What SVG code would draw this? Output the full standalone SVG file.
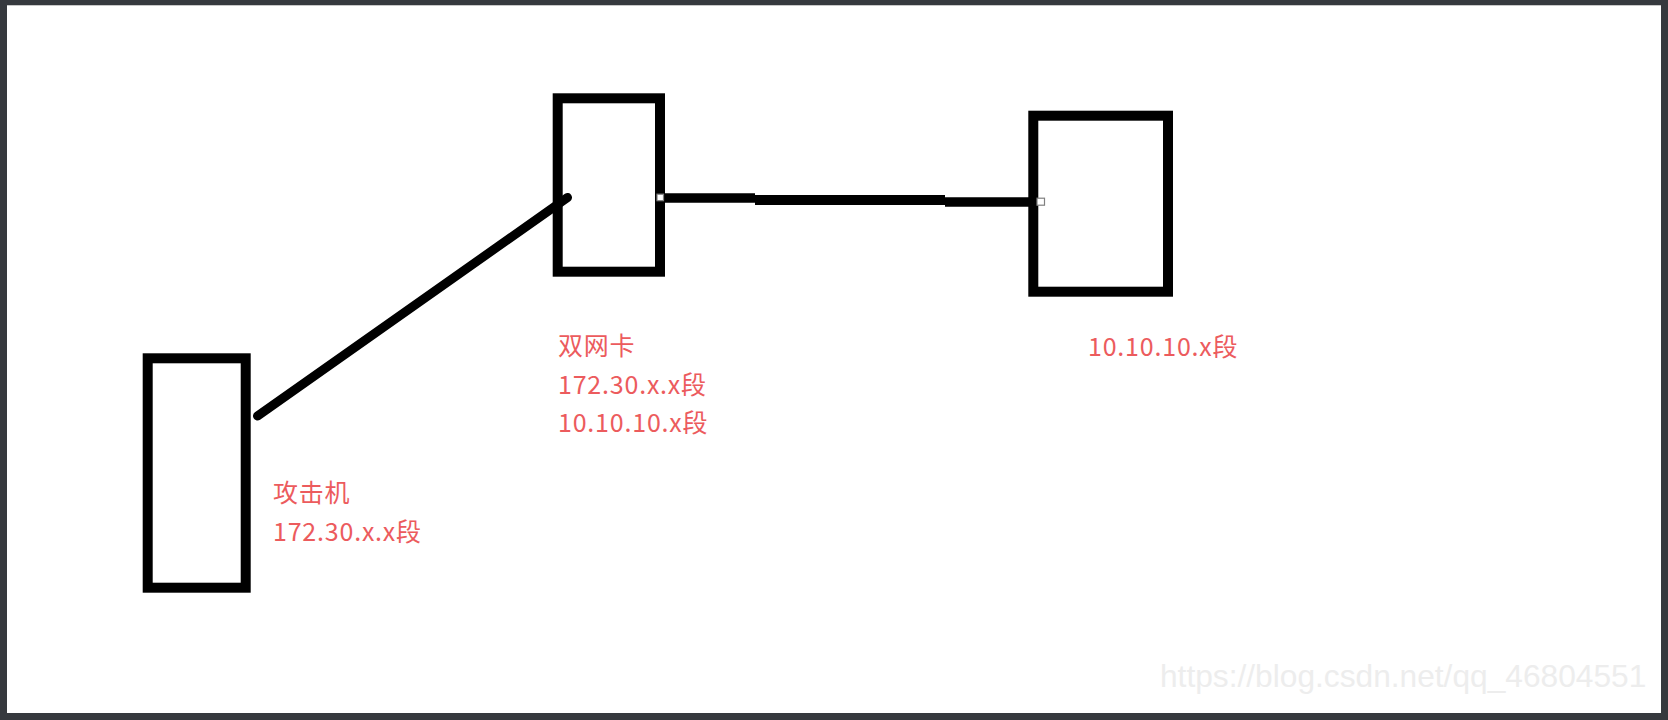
<svg xmlns="http://www.w3.org/2000/svg" width="1668" height="720" viewBox="0 0 1668 720">
  <style>
    .box { fill: #ffffff; stroke: #000000; stroke-width: 10; }
    .lbl { font-family: "Noto Sans CJK SC", "Noto Sans", sans-serif; font-size: 25px; letter-spacing: 0.8px; fill: #ec5b5d; }
    .wire { stroke: #000000; fill: none; }
    .handle { fill: #ffffff; stroke: #808080; stroke-width: 1.2; }
    .wm { font-family: "Liberation Sans", Arial, sans-serif; font-size: 31.7px; fill: #ededed; }
  </style>
  <rect x="0" y="0" width="1668" height="720" fill="#36393e"/>
  <rect x="7" y="5" width="1654" height="708" fill="#ffffff"/>
  <line x1="7" y1="5.5" x2="1661" y2="5.5" stroke="#c8c8c8" stroke-width="1"/>

  <g id="node-attacker">
    <rect class="box" x="147.7" y="358.3" width="98" height="229.4"/>
    <text class="lbl" x="273" y="502">攻击机</text>
    <text class="lbl" x="273" y="541">172.30.x.x段</text>
  </g>

  <g id="node-dualnic">
    <rect class="box" x="557.7" y="98.3" width="102.3" height="173.4"/>
    <text class="lbl" x="558" y="355">双网卡</text>
    <text class="lbl" x="558" y="394">172.30.x.x段</text>
    <text class="lbl" x="558" y="432">10.10.10.x段</text>
  </g>

  <g id="node-internal">
    <rect class="box" x="1033.3" y="115.7" width="134.7" height="176"/>
    <text class="lbl" x="1088" y="356">10.10.10.x段</text>
  </g>

  <g id="connectors">
    <line class="wire" x1="257.5" y1="416" x2="567.5" y2="197.5" stroke-width="9" stroke-linecap="round"/>
    <line class="wire" x1="662" y1="198" x2="755" y2="198" stroke-width="9.4"/>
    <line class="wire" x1="755" y1="200" x2="945" y2="200" stroke-width="10"/>
    <line class="wire" x1="945" y1="202" x2="1036" y2="202" stroke-width="9.4"/>
    <rect class="handle" x="657" y="194.2" width="6.5" height="6.5"/>
    <rect class="handle" x="1037" y="198.2" width="7.5" height="7"/>
  </g>

  <text class="wm" x="1160" y="687">https://blog.csdn.net/qq_46804551</text>
</svg>
